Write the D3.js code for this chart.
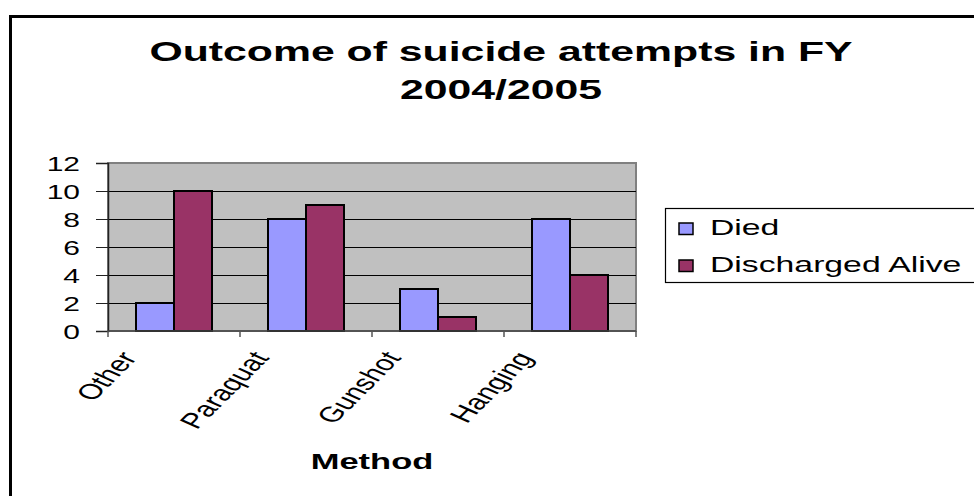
<!DOCTYPE html>
<html>
<head>
<meta charset="utf-8">
<script src="https://cdn.jsdelivr.net/npm/d3@7"></script>
<style>
  html, body { margin: 0; padding: 0; background: #fff; }
  svg { display: block; font-family: "Liberation Sans", Arial, sans-serif; }
</style>
</head>
<body>
<div id="chart"></div>
<script>
// data
const methods = ["Other", "Paraquat", "Gunshot", "Hanging"];
const seriesNames = ["Died", "Discharged Alive"];
const died = [2, 8, 3, 8];
const dischargedAlive = [10, 9, 1, 4];
const yTicks = [0, 2, 4, 6, 8, 10, 12];
const titleLines = ["Outcome of suicide attempts in FY", "2004/2005"];

const colors = { "Died": "#9999ff", "Discharged Alive": "#993366" };
const values = { "Died": died, "Discharged Alive": dischargedAlive };

// the original chart was stretched sideways, so all text gets the same stretch
const sx = 1.5;
const width = 974, height = 496;
const plot = { left: 108, right: 636, top: 163, bottom: 331 };

const svg = d3.select("#chart")
    .append("svg")
    .attr("width", width)
    .attr("height", height);

// outer chart border (runs off the right and bottom)
svg.append("rect")
    .attr("x", 10.5)
    .attr("y", 16.5)
    .attr("width", 1000)
    .attr("height", 600)
    .attr("fill", "#fff")
    .attr("stroke", "#000")
    .attr("stroke-width", 3);

// title
svg.append("g")
    .selectAll("text")
    .data(titleLines)
    .join("text")
    .attr("transform", (d, i) => `translate(501,${61 + i * 37.5}) scale(${sx},1)`)
    .attr("text-anchor", "middle")
    .attr("font-size", "28.5px")
    .attr("font-weight", "bold")
    .text(d => d);

const x0 = d3.scaleBand()
    .domain(methods)
    .range([plot.left, plot.right]);

const x1 = d3.scaleBand()
    .domain(seriesNames)
    .range([0, x0.bandwidth()])
    .paddingOuter(0.737);

const y = d3.scaleLinear()
    .domain([0, 12])
    .range([plot.bottom, plot.top]);

// plot area
svg.append("rect")
    .attr("x", plot.left)
    .attr("y", plot.top)
    .attr("width", plot.right - plot.left)
    .attr("height", plot.bottom - plot.top)
    .attr("fill", "#c0c0c0")
    .attr("stroke", "#808080")
    .attr("stroke-width", 2);

// gridlines
svg.append("g")
    .selectAll("line")
    .data(yTicks.filter(d => d > 0 && d < 12))
    .join("line")
    .attr("x1", plot.left)
    .attr("x2", plot.right)
    .attr("y1", d => Math.round(y(d)) + 0.5)
    .attr("y2", d => Math.round(y(d)) + 0.5)
    .attr("stroke", "#000")
    .attr("stroke-width", 1);

// y axis
const yAxis = svg.append("g")
    .attr("transform", `translate(${plot.left},0)`)
    .call(d3.axisLeft(y).tickValues(yTicks).tickSize(12).tickPadding(16).tickFormat(d3.format("d")));
yAxis.select(".domain").attr("stroke", "#222").attr("stroke-width", 1.5);
yAxis.selectAll(".tick line").attr("stroke", "#222");
yAxis.selectAll(".tick text")
    .attr("x", null)
    .attr("dy", null)
    .attr("transform", `translate(-28,0) scale(${sx},1)`)
    .attr("dominant-baseline", "central")
    .attr("font-size", "20px")
    .attr("font-family", "Liberation Sans, Arial, sans-serif")
    .attr("fill", "#000");

// bars
svg.append("g")
    .selectAll("g")
    .data(methods)
    .join("g")
    .attr("transform", d => `translate(${x0(d)},0)`)
    .selectAll("rect")
    .data((d, i) => seriesNames.map(s => ({ s, v: values[s][i] })))
    .join("rect")
    .attr("x", d => x1(d.s))
    .attr("y", d => y(d.v))
    .attr("width", x1.bandwidth())
    .attr("height", d => y(0) - y(d.v))
    .attr("fill", d => colors[d.s])
    .attr("stroke", "#000")
    .attr("stroke-width", 2);

// x axis line and ticks at category boundaries
const bounds = methods.map(m => x0(m)).concat([plot.right]);
svg.append("line")
    .attr("x1", plot.left)
    .attr("x2", plot.right)
    .attr("y1", plot.bottom)
    .attr("y2", plot.bottom)
    .attr("stroke", "#444")
    .attr("stroke-width", 1.5);
svg.append("g")
    .selectAll("line")
    .data(bounds)
    .join("line")
    .attr("x1", d => d)
    .attr("x2", d => d)
    .attr("y1", plot.bottom)
    .attr("y2", plot.bottom + 6)
    .attr("stroke", "#555")
    .attr("stroke-width", 1.5);

// rotated category labels: rotated first, then stretched with the rest
svg.append("g")
    .selectAll("text")
    .data(methods)
    .join("text")
    .attr("transform", d => `translate(${x0(d) + x0.bandwidth() / 2 - 36},358) scale(${sx},1) rotate(-56)`)
    .attr("text-anchor", "end")
    .attr("font-size", "21.5px")
    .text(d => d);

// x axis title
svg.append("text")
    .attr("transform", `translate(${(plot.left + plot.right) / 2},469) scale(${sx},1)`)
    .attr("text-anchor", "middle")
    .attr("font-size", "23px")
    .attr("font-weight", "bold")
    .text("Method");

// legend
const legend = svg.append("g");
legend.append("rect")
    .attr("x", 665.5)
    .attr("y", 208.5)
    .attr("width", 400)
    .attr("height", 74)
    .attr("fill", "#fff")
    .attr("stroke", "#000")
    .attr("stroke-width", 1.2);

const item = legend.selectAll("g.item")
    .data(seriesNames)
    .join("g")
    .attr("class", "item")
    .attr("transform", (d, i) => `translate(0,${i * 37})`);
item.append("rect")
    .attr("x", 679)
    .attr("y", 223)
    .attr("width", 14)
    .attr("height", 11.5)
    .attr("fill", d => colors[d])
    .attr("stroke", "#000")
    .attr("stroke-width", 1.5);
item.append("text")
    .attr("transform", `translate(710,235) scale(${sx},1)`)
    .attr("font-size", "22.5px")
    .text(d => d);
</script>
</body>
</html>
